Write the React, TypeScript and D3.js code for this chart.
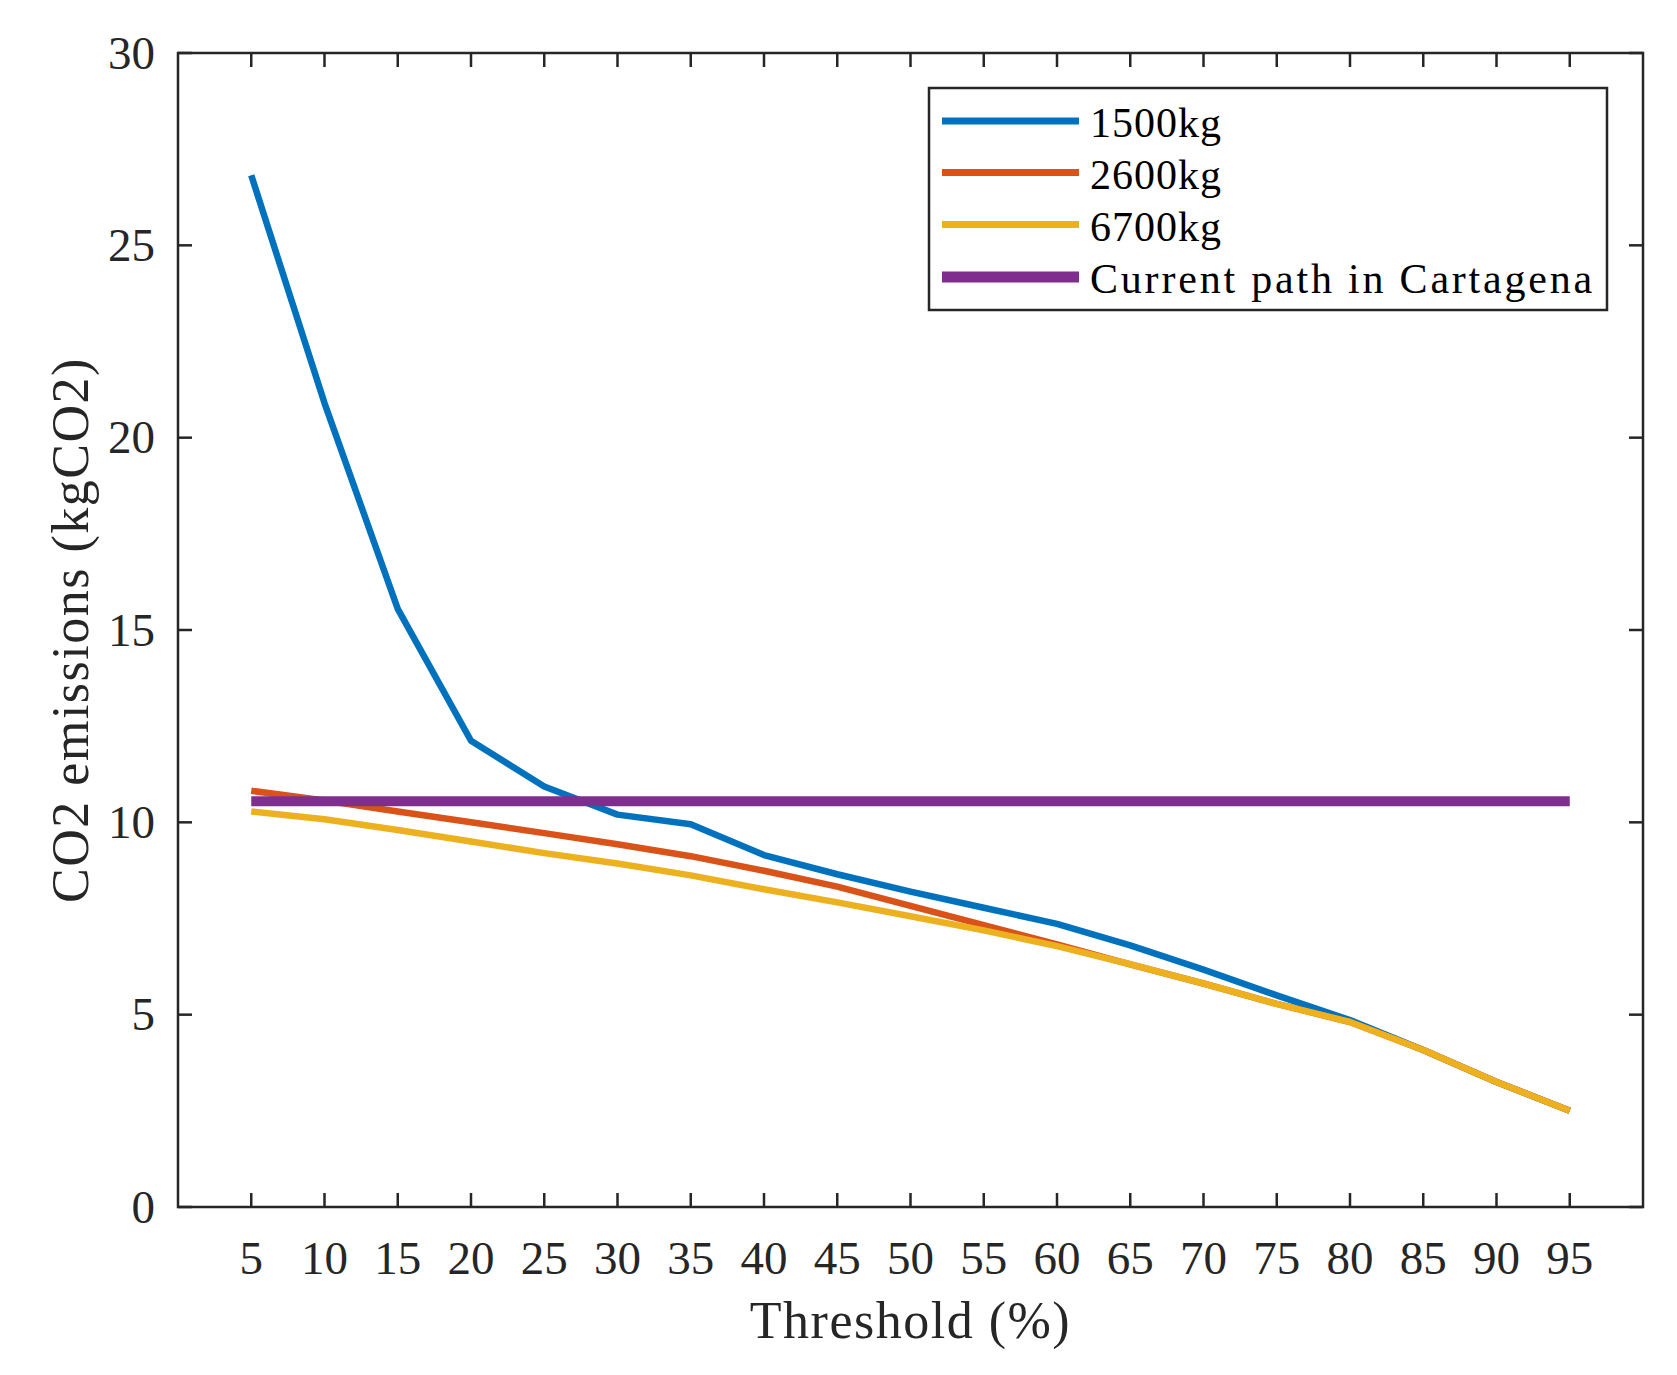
import React from "react";
import * as d3 from "d3";

const thresholds = [5, 10, 15, 20, 25, 30, 35, 40, 45, 50, 55, 60, 65, 70, 75, 80, 85, 90, 95];
const series1500 = [26.82, 20.9, 15.55, 12.12, 10.93, 10.2, 9.95, 9.15, 8.65, 8.2, 7.78, 7.36, 6.8, 6.17, 5.5, 4.86, 4.08, 3.25, 2.5];
const series2600 = [10.82, 10.57, 10.28, 10.0, 9.72, 9.43, 9.12, 8.74, 8.33, 7.83, 7.33, 6.83, 6.31, 5.81, 5.28, 4.81, 4.08, 3.25, 2.5];
const series6700 = [10.28, 10.08, 9.8, 9.5, 9.2, 8.93, 8.62, 8.26, 7.92, 7.56, 7.19, 6.78, 6.31, 5.81, 5.28, 4.81, 4.08, 3.25, 2.5];
const currentPath = thresholds.map(() => 10.55);

const seriesNames = ["1500kg", "2600kg", "6700kg", "Current path in Cartagena"];
const seriesColors = ["#0072BD", "#D95319", "#EDB120", "#7E2F8E"];
const xTicks = thresholds;
const yTicks = [0, 5, 10, 15, 20, 25, 30];
const xLabel = "Threshold (%)";
const yLabel = "CO2 emissions (kgCO2)";

const W = 1677;
const H = 1375;
const L = 178, R = 1643, T = 53, B = 1207;
const FONT = "'Liberation Serif', 'Times New Roman', serif";
const AX = "#262626";

export default function App() {
  const x = d3.scaleLinear().domain([0, 100]).range([L, R]);
  const y = d3.scaleLinear().domain([0, 30]).range([B, T]);
  const line = d3
    .line<[number, number]>()
    .x((d) => x(d[0]))
    .y((d) => y(d[1]));
  const allSeries = [series1500, series2600, series6700, currentPath];
  const widths = [6.5, 6.5, 6.5, 10];
  const tick = 14;

  const legX = 929, legY = 88, legW = 678, legH = 222;
  const rowY = [121, 172.5, 224.5, 277];

  return (
    <svg
      width={W}
      height={H}
      style={{ position: "absolute", left: 0, top: 0, background: "#fff" }}
      fontFamily={FONT}
    >
      <rect x={0} y={0} width={W} height={H} fill="#fff" />
      {allSeries.map((s, i) => (
        <path
          key={i}
          d={line(thresholds.map((t, j) => [t, s[j]] as [number, number])) || ""}
          fill="none"
          stroke={seriesColors[i]}
          strokeWidth={widths[i]}
          strokeLinejoin="round"
          strokeLinecap="butt"
        />
      ))}
      {xTicks.map((t) => (
        <g key={"xt" + t}>
          <line x1={x(t)} x2={x(t)} y1={B} y2={B - tick} stroke={AX} strokeWidth={2.5} />
          <line x1={x(t)} x2={x(t)} y1={T} y2={T + tick} stroke={AX} strokeWidth={2.5} />
          <text x={x(t)} y={1274} textAnchor="middle" fontSize={47} fill={AX}>
            {t}
          </text>
        </g>
      ))}
      {yTicks.map((t) => (
        <g key={"yt" + t}>
          <line x1={L} x2={L + tick} y1={y(t)} y2={y(t)} stroke={AX} strokeWidth={2.5} />
          <line x1={R} x2={R - tick} y1={y(t)} y2={y(t)} stroke={AX} strokeWidth={2.5} />
          <text x={155} y={y(t) + 15.5} textAnchor="end" fontSize={47} fill={AX}>
            {t}
          </text>
        </g>
      ))}
      <rect x={L} y={T} width={R - L} height={B - T} fill="none" stroke={AX} strokeWidth={2.5} />
      <text x={(L + R) / 2} y={1338} textAnchor="middle" fontSize={52} fill={AX} letterSpacing={1.5}>
        {xLabel}
      </text>
      <text
        transform={`translate(88, ${(T + B) / 2}) rotate(-90)`}
        textAnchor="middle"
        fontSize={52}
        fill={AX}
        letterSpacing={1.5}
      >
        {yLabel}
      </text>
      <rect x={legX} y={legY} width={legW} height={legH} fill="#fff" stroke={AX} strokeWidth={2.5} />
      {seriesNames.map((n, i) => (
        <g key={n}>
          <line
            x1={942}
            x2={1079}
            y1={rowY[i]}
            y2={rowY[i]}
            stroke={seriesColors[i]}
            strokeWidth={i === 3 ? 11 : 7}
          />
          <text x={1090} y={rowY[i] + 16} fontSize={42} fill="#000" letterSpacing={i === 3 ? 2.8 : 1}>
            {n}
          </text>
        </g>
      ))}
    </svg>
  );
}
